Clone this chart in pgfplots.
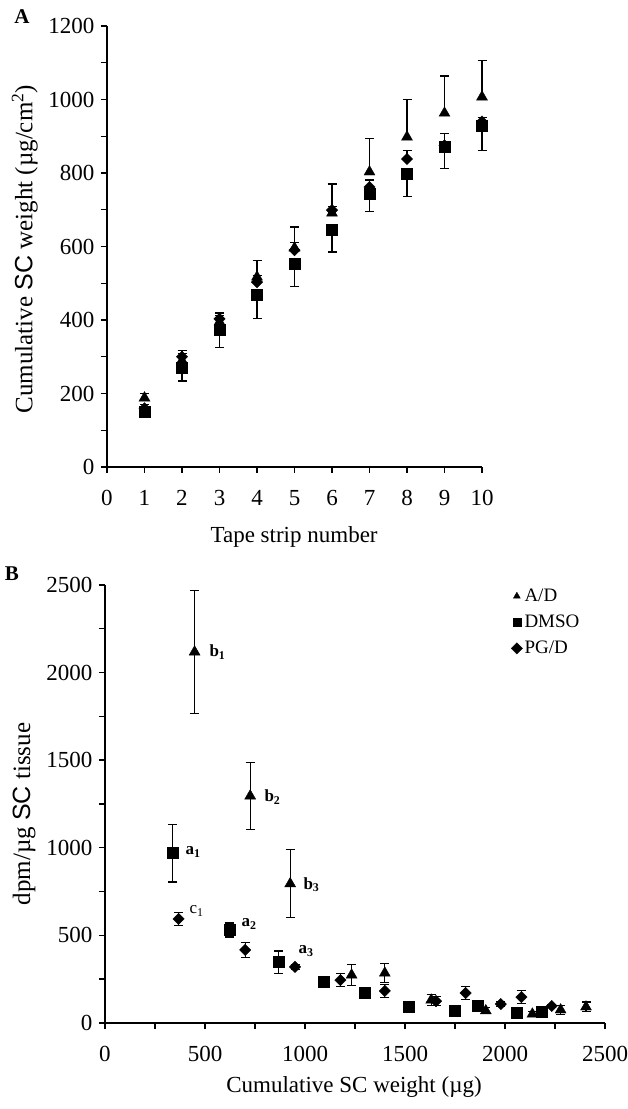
\documentclass[border=0pt]{standalone}
\usepackage{fontspec}
\setmainfont{Liberation Serif}
\setsansfont{Liberation Sans}
\usepackage{pgfplots}
\pgfplotsset{compat=1.18}

\newcommand{\fs}[1]{\fontsize{#1}{#1}\selectfont}

\pgfplotsset{
  panel/.style={
    scale only axis, anchor=south west,
    axis lines=left, axis line style={-, line width=1.8pt},
    tick align=outside, major tick length=6pt, minor tick length=6pt,
    every tick/.style={black, line width=1.4pt},
    enlargelimits=false, clip=false, scaled ticks=false,
    /pgf/number format/assume math mode=true,
    /pgf/number format/1000 sep={},
    tick label style={font=\fs{23}},
    xticklabel style={yshift=-14pt},
    yticklabel style={xshift=-3pt},
    label style={font=\fs{23}},
  },
  eb/.style={
    error bars/y explicit, error bars/y dir=#1,
    error bars/error bar style={line width=1.1pt, black},
    error bars/error mark options={rotate=90, mark size=4.5pt, line width=1.1pt, black},
  },
  tri/.style={only marks, black, mark=triangle*, mark size=6.3pt},
  sq/.style={only marks, black, mark=square*, mark size=5.5pt},
  dia/.style={only marks, black, mark=square*, mark size=4pt, mark options={rotate=45}},
}

\begin{document}
\begin{tikzpicture}
\path[use as bounding box] (0pt,0pt) rectangle (628pt,1109pt);

% panel A
\begin{axis}[panel,
  at={(107pt,642pt)}, width=375pt, height=441pt,
  xmin=0, xmax=10, ymin=0, ymax=1200,
  xtick={0,1,...,10},
  ytick={0,200,...,1200}, minor y tick num=1,
  xlabel={Tape strip number},
  ylabel={Cumulative {\sffamily SC} weight (µg/cm\textsuperscript{2})},
  xlabel style={at={(axis description cs:0.499,-0.159)}, anchor=center},
  ylabel style={at={(axis description cs:-0.219,0.494)}, anchor=center, font=\fs{25}},
]
\addplot[tri, eb=plus] table[x=x, y=y, y error=e] {
x y e
1 188 13
2 290 20
3 395 18
4 517 46
5 596 57
6 691 79
7 803 92
8 898 103
9 963 101
10 1007 100
};
\addplot[dia, eb=plus] table[x=x, y=y, y error=e] {
x y e
1 160 10
2 300 18
3 403 16
4 503 19
5 590 22
6 699 11
7 762 19
8 838 24
9 875 33
10 940 12
};
\addplot[sq, eb=minus] table[x=x, y=y, y error=e] {
x y e
1 150 14
2 269 35
3 373 49
4 468 63
5 552 62
6 647 62
7 745 51
8 797 60
9 871 58
10 928 68
};
\end{axis}

% panel B
\begin{axis}[panel,
  at={(105pt,86pt)}, width=500pt, height=438pt,
  xmin=0, xmax=2500, ymin=0, ymax=2500,
  xtick={0,500,...,2500}, minor x tick num=1,
  ytick={0,500,...,2500}, minor y tick num=1,
  xlabel={Cumulative SC weight (µg)},
  ylabel={dpm/µg {\sffamily SC} tissue},
  xlabel style={at={(axis description cs:0.498,-0.146)}, anchor=center},
  ylabel style={at={(axis description cs:-0.162,0.477)}, anchor=center, font=\fs{25}},
  legend style={at={(axis cs:2030,2500)}, anchor=north west, draw=none, fill=none,
    font=\fs{19}, row sep=8pt, inner xsep=0pt},
  legend cell align=left,
  legend image post style={mark size=4pt},
]
\addplot[tri, eb=both] table[x=x, y=y, y error=e] {
x y e
448 2118 350
726 1296 190
926 795 195
1233 274 62
1399 285 55
1631 131 30
1904 70 18
2137 51 14
2278 75 24
2405 92 28
};
\addlegendentry{A/D}
\addplot[sq, eb=both] table[x=x, y=y, y error=e] {
x y e
338 970 165
621 531 40
867 348 63
1092 234 32
1298 171 25
1520 91 12
1749 68 10
1864 97 15
2056 57 10
2181 63 10
};
\addlegendentry{DMSO}
\addplot[dia, eb=both] table[x=x, y=y, y error=e] {
x y e
368 594 38
701 417 42
950 320 15
1177 245 38
1399 183 38
1655 125 25
1803 171 38
1979 108 15
2082 148 35
2234 97 10
};
\addlegendentry{PG/D}
\node[anchor=west, font=\fs{17}] at (axis cs:505,2118) {\textbf{b\textsubscript{1}}};
\node[anchor=west, font=\fs{17}] at (axis cs:780,1290) {\textbf{b\textsubscript{2}}};
\node[anchor=west, font=\fs{17}] at (axis cs:975,790) {\textbf{b\textsubscript{3}}};
\node[anchor=west, font=\fs{17}] at (axis cs:385,975) {\textbf{a\textsubscript{1}}};
\node[anchor=west, font=\fs{17}] at (axis cs:405,640) {c\textsubscript{1}};
\node[anchor=west, font=\fs{17}] at (axis cs:665,565) {\textbf{a\textsubscript{2}}};
\node[anchor=west, font=\fs{17}] at (axis cs:950,410) {\textbf{a\textsubscript{3}}};
\end{axis}

\node[font=\fs{21}\bfseries] at (22pt,1092pt) {A};
\node[font=\fs{21}\bfseries] at (12pt,535pt) {B};
\end{tikzpicture}
\end{document}
